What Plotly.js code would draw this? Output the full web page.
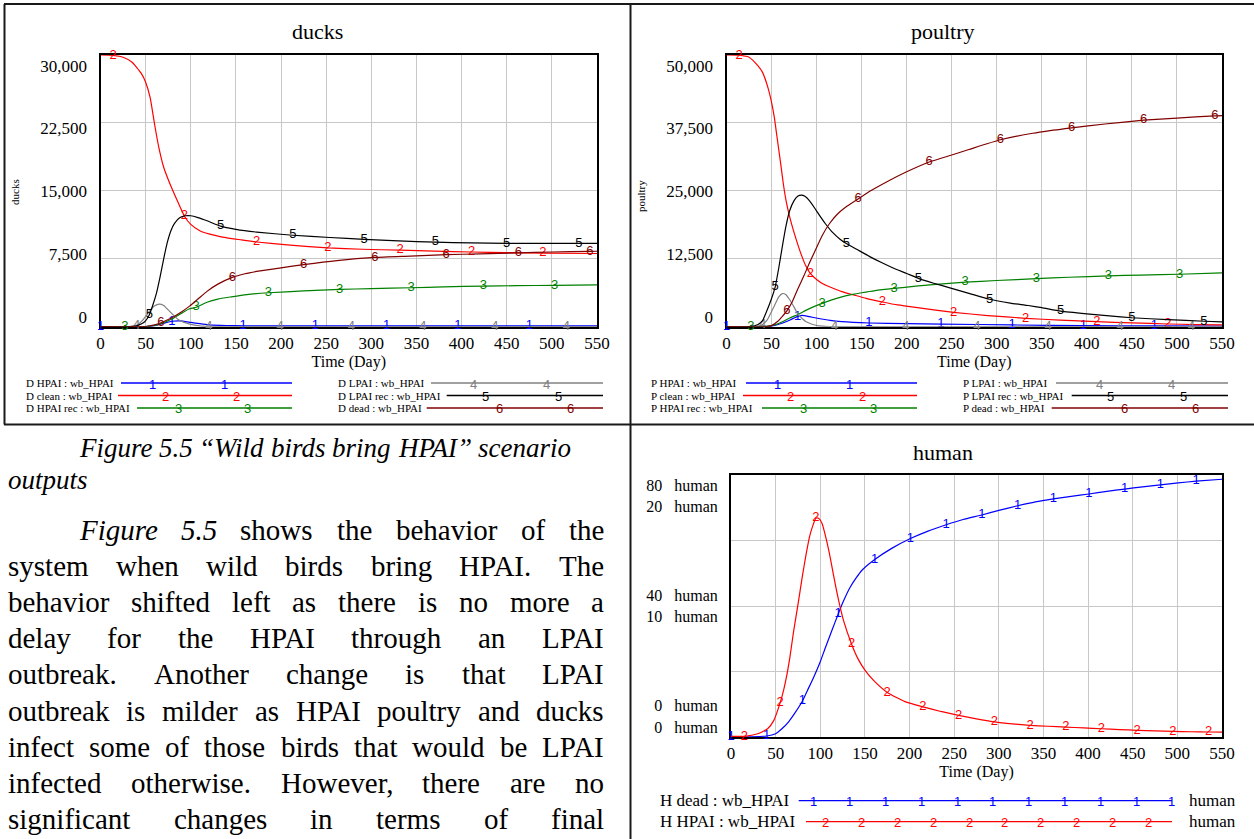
<!DOCTYPE html>
<html>
<head>
<meta charset="utf-8">
<script src="https://cdn.plot.ly/plotly-3.0.1.min.js"></script>
<style>
  html, body { margin: 0; padding: 0; background: #ffffff; }
  #page { width: 1254px; height: 839px; }
</style>
</head>
<body>
<div id="page"></div>
<script>
// ---------------- shared axis values ----------------
const timeTicks = [0, 50, 100, 150, 200, 250, 300, 350, 400, 450, 500, 550];
const duckTicks = [0, 7500, 15000, 22500, 30000];
const poultryTicks = [0, 12500, 25000, 37500, 50000];
const humanDeadTicks = [0, 40, 80];
const humanHpaiTicks = [0, 10, 20];
const runName = 'wb_HPAI';
const humanUnit = 'human';

// ---------------- ducks (days / ducks) ----------------
const duckNames = ['D HPAI', 'D clean', 'D HPAI rec', 'D LPAI', 'D LPAI rec', 'D dead'];

const duckHpaiT = [0, 40, 50, 60, 70, 79, 88, 100, 110, 120, 140, 158, 238, 317, 396, 475, 550];
const duckHpaiV = [0, 0, 20, 120, 380, 600, 650, 480, 330, 210, 130, 100, 90, 90, 90, 90, 90];
const duckHpaiMarks = [0, 79, 158, 238, 317, 396, 475];

const duckCleanT = [0, 14, 25, 35, 45, 50, 55, 60, 65, 70, 76, 86, 93, 100, 110, 120, 135, 155, 173, 210, 252, 290, 332, 370, 411, 450, 490, 550];
const duckCleanV = [30000, 29950, 29750, 29200, 28000, 27000, 25300, 22300, 19600, 17600, 16000, 13700, 12200, 11300, 10600, 10250, 9900, 9600, 9350, 9000, 8700, 8550, 8450, 8350, 8250, 8180, 8120, 8080];
const duckCleanMarks = [14, 93, 173, 252, 332, 411, 490];

const duckHpaiRecT = [0, 27, 50, 60, 70, 80, 90, 98, 106, 118, 130, 145, 162, 186, 225, 265, 300, 344, 380, 424, 460, 503, 550];
const duckHpaiRecV = [0, 0, 20, 150, 440, 900, 1500, 1950, 2150, 2700, 3050, 3300, 3550, 3750, 3950, 4120, 4200, 4300, 4400, 4480, 4530, 4570, 4620];
const duckHpaiRecMarks = [27, 106, 186, 265, 344, 424, 503];

const duckLpaiT = [0, 30, 40, 47, 55, 60, 65, 70, 75, 80, 86, 92, 99, 110, 120, 135, 199, 278, 357, 437, 516, 550];
const duckLpaiV = [0, 0, 150, 750, 1800, 2300, 2500, 2350, 1850, 1350, 800, 500, 280, 100, 40, 10, 0, 0, 0, 0, 0, 0];
const duckLpaiMarks = [40, 120, 199, 278, 357, 437, 516];

const duckLpaiRecT = [0, 30, 40, 45, 49, 54, 58, 62, 66, 70, 74, 78, 82, 88, 94, 100, 108, 118, 133, 150, 173, 213, 254, 292, 330, 371, 410, 450, 490, 530, 550];
const duckLpaiRecV = [0, 0, 100, 300, 550, 1300, 2400, 3700, 5500, 7500, 9300, 10600, 11400, 12050, 12250, 12250, 12050, 11700, 11100, 10750, 10450, 10100, 9850, 9650, 9480, 9330, 9250, 9200, 9200, 9200, 9200];
const duckLpaiRecMarks = [54, 133, 213, 292, 371, 450, 530];

const duckDeadT = [0, 40, 52, 60, 67, 75, 81, 90, 99, 108, 118, 130, 146, 160, 173, 200, 225, 262, 304, 343, 383, 420, 463, 500, 542, 550];
const duckDeadV = [0, 0, 50, 200, 440, 800, 1100, 1650, 2300, 3050, 3900, 4700, 5450, 5850, 6100, 6500, 6850, 7300, 7650, 7800, 7950, 8050, 8150, 8250, 8320, 8330];
const duckDeadMarks = [67, 146, 225, 304, 383, 463, 542];

// ---------------- poultry (days / poultry) ----------------
const poultryNames = ['P HPAI', 'P clean', 'P HPAI rec', 'P LPAI', 'P LPAI rec', 'P dead'];

const poultryHpaiT = [0, 40, 50, 60, 70, 79, 84, 92, 101, 115, 128, 158, 200, 238, 317, 396, 475, 550];
const poultryHpaiV = [0, 0, 120, 550, 1200, 1900, 2100, 1850, 1550, 1150, 920, 680, 560, 490, 320, 200, 140, 100];
const poultryHpaiMarks = [0, 79, 158, 238, 317, 396, 475];

const poultryCleanT = [0, 14, 25, 35, 40, 46, 50, 53, 56, 60, 63, 66, 70, 75, 80, 84, 88, 93, 100, 108, 115, 128, 141, 155, 173, 190, 212, 252, 290, 332, 370, 411, 450, 490, 520, 550];
const poultryCleanV = [50000, 49950, 49600, 48000, 46800, 44000, 41300, 38600, 35000, 30200, 26400, 23300, 20300, 17300, 14700, 12800, 11200, 9800, 8700, 7800, 7300, 6450, 5850, 5200, 4550, 4000, 3500, 2650, 2050, 1550, 1200, 920, 700, 500, 400, 320];
const poultryCleanMarks = [14, 93, 173, 252, 332, 411, 490];

const poultryHpaiRecT = [0, 27, 44, 55, 62, 70, 80, 88, 97, 106, 116, 128, 140, 150, 165, 186, 210, 229, 265, 300, 344, 380, 424, 460, 503, 550];
const poultryHpaiRecV = [0, 0, 50, 400, 900, 1600, 2300, 3000, 3700, 4300, 4900, 5500, 5950, 6250, 6650, 7050, 7450, 7750, 8200, 8500, 8850, 9100, 9350, 9500, 9650, 9900];
const poultryHpaiRecMarks = [27, 106, 186, 265, 344, 424, 503];

const poultryLpaiT = [0, 30, 40, 45, 50, 55, 58, 62, 66, 70, 75, 79, 84, 88, 95, 101, 110, 120, 199, 278, 357, 437, 516, 550];
const poultryLpaiV = [0, 0, 400, 1200, 2800, 4500, 5500, 6100, 5900, 5000, 3600, 2400, 1500, 950, 450, 200, 60, 10, 0, 0, 0, 0, 0, 0];
const poultryLpaiMarks = [40, 120, 199, 278, 357, 437, 516];

const poultryLpaiRecT = [0, 26, 35, 40, 44, 50, 54, 58, 62, 66, 70, 75, 79, 83, 87, 92, 98, 104, 110, 118, 126, 133, 145, 159, 172, 185, 200, 213, 230, 247, 270, 292, 315, 335, 350, 371, 400, 425, 450, 490, 530, 550];
const poultryLpaiRecV = [0, 0, 400, 1100, 2600, 5200, 7300, 10800, 14800, 18500, 21300, 23200, 24000, 24200, 24000, 23200, 21800, 20300, 18900, 17300, 16100, 15300, 14200, 12900, 11800, 10800, 9800, 8900, 8000, 7200, 6100, 5050, 4350, 3900, 3500, 2850, 2350, 2000, 1650, 1300, 1000, 900];
const poultryLpaiRecMarks = [54, 133, 213, 292, 371, 450, 530];

const poultryDeadT = [0, 44, 50, 57, 62, 67, 73, 79, 86, 92, 99, 106, 114, 123, 134, 146, 160, 176, 200, 225, 250, 269, 304, 340, 383, 420, 463, 500, 542, 550];
const poultryDeadV = [0, 0, 200, 1000, 1900, 2900, 4600, 6900, 9400, 11700, 14200, 16700, 18900, 20700, 22200, 23500, 25000, 26500, 28500, 30300, 31600, 32600, 34400, 35600, 36600, 37300, 38000, 38400, 38800, 38850];
const poultryDeadMarks = [67, 146, 225, 304, 383, 463, 542];

// ---------------- human (days / human) ----------------
const humanNames = ['H dead', 'H HPAI'];

const humanDeadT = [0, 40, 50, 57, 65, 72, 80, 87, 93, 100, 106, 113, 120, 126, 133, 140, 147, 161, 180, 201, 220, 241, 260, 281, 300, 321, 341, 361, 381, 401, 421, 441, 461, 481, 501, 521, 550];
const humanDeadV = [0, 0.3, 1.0, 2.5, 4.8, 7.5, 11.0, 15.0, 18.5, 23.0, 27.5, 32.5, 37.5, 41.5, 45.5, 48.5, 51.0, 54.2, 57.6, 60.6, 62.8, 64.8, 66.4, 67.8, 69.2, 70.6, 71.8, 72.7, 73.5, 74.2, 75.0, 75.7, 76.4, 77.0, 77.6, 78.1, 78.7];
const humanDeadMarks = [0, 40, 80, 120, 161, 201, 241, 281, 321, 361, 401, 441, 481, 521];

const humanHpaiT = [0, 15, 30, 41, 48, 55, 59, 63, 66, 70, 75, 80, 84, 88, 91, 95, 98, 102, 106, 110, 115, 120, 126, 135, 142, 150, 160, 175, 195, 215, 235, 255, 275, 295, 315, 335, 355, 375, 395, 415, 435, 455, 475, 495, 515, 535, 550];
const humanHpaiV = [0.05, 0.05, 0.25, 0.63, 1.27, 2.6, 3.6, 4.9, 6.1, 8.0, 10.1, 12.3, 13.9, 15.3, 16.0, 16.7, 16.7, 16.3, 15.3, 14.1, 12.3, 10.6, 8.9, 7.1, 6.0, 5.1, 4.3, 3.4, 2.7, 2.3, 1.95, 1.65, 1.38, 1.15, 1.0, 0.89, 0.82, 0.76, 0.69, 0.63, 0.57, 0.51, 0.47, 0.43, 0.40, 0.38, 0.37];
const humanHpaiMarks = [15, 55, 95, 135, 175, 215, 255, 295, 335, 375, 415, 455, 495, 535];

// ---------------- page text ----------------
const captionLines = ['Figure 5.5 \u201cWild birds bring HPAI\u201d scenario', 'outputs'];
const bodyLines = [
  'Figure 5.5 shows the behavior of the',
  'system when wild birds bring HPAI. The',
  'behavior shifted left as there is no more a',
  'delay for the HPAI through an LPAI',
  'outbreak. Another change is that LPAI',
  'outbreak is milder as HPAI poultry and ducks',
  'infect some of those birds that would be LPAI',
  'infected otherwise. However, there are no',
  'significant changes in terms of final'
];

// ---------------- styling ----------------
const W = 1254, H = 839;
const px = x => x / W;
const py = y => 1 - y / H;
const SERIF = 'Liberation Serif';
const SANS = 'Liberation Sans';
const seriesColors = ['#0000ff', '#ff0000', '#008000', '#808080', '#000000', '#800000'];
const GRID = '#c8c8c8';

function curve(t, v, marks, digit, color, xa, ya) {
  return {
    type: 'scatter', mode: 'lines+text', x: t, y: v, xaxis: xa, yaxis: ya,
    line: { color: color, width: 1.2, shape: 'spline', smoothing: 0.5 },
    text: t.map(d => (marks.indexOf(d) >= 0 ? digit : '')),
    textposition: 'middle center',
    textfont: { family: SANS, size: 13, color: color },
    cliponaxis: false, hoverinfo: 'skip', showlegend: false
  };
}
// empty holder so a label-only axis gets drawn
function holder(xa, ya) {
  return { type: 'scatter', mode: 'lines', x: [], y: [], xaxis: xa, yaxis: ya, hoverinfo: 'skip', showlegend: false };
}

const traces = [
  curve(duckHpaiT, duckHpaiV, duckHpaiMarks, '1', seriesColors[0], 'x', 'y'),
  curve(duckCleanT, duckCleanV, duckCleanMarks, '2', seriesColors[1], 'x', 'y'),
  curve(duckHpaiRecT, duckHpaiRecV, duckHpaiRecMarks, '3', seriesColors[2], 'x', 'y'),
  curve(duckLpaiT, duckLpaiV, duckLpaiMarks, '4', seriesColors[3], 'x', 'y'),
  curve(duckLpaiRecT, duckLpaiRecV, duckLpaiRecMarks, '5', seriesColors[4], 'x', 'y'),
  curve(duckDeadT, duckDeadV, duckDeadMarks, '6', seriesColors[5], 'x', 'y'),
  curve(poultryHpaiT, poultryHpaiV, poultryHpaiMarks, '1', seriesColors[0], 'x2', 'y3'),
  curve(poultryCleanT, poultryCleanV, poultryCleanMarks, '2', seriesColors[1], 'x2', 'y3'),
  curve(poultryHpaiRecT, poultryHpaiRecV, poultryHpaiRecMarks, '3', seriesColors[2], 'x2', 'y3'),
  curve(poultryLpaiT, poultryLpaiV, poultryLpaiMarks, '4', seriesColors[3], 'x2', 'y3'),
  curve(poultryLpaiRecT, poultryLpaiRecV, poultryLpaiRecMarks, '5', seriesColors[4], 'x2', 'y3'),
  curve(poultryDeadT, poultryDeadV, poultryDeadMarks, '6', seriesColors[5], 'x2', 'y3'),
  curve(humanDeadT, humanDeadV, humanDeadMarks, '1', seriesColors[0], 'x3', 'y5'),
  curve(humanHpaiT, humanHpaiV, humanHpaiMarks, '2', seriesColors[1], 'x3', 'y6'),
  holder('x', 'y2'), holder('x2', 'y4'), holder('x3', 'y7'), holder('x3', 'y8')
];

// ---------------- axes ----------------
function timeAxis(x0, x1, anchor) {
  return {
    domain: [px(x0), px(x1)], anchor: anchor, range: [0, 550], autorange: false,
    tickvals: timeTicks, ticks: '', 
    tickfont: { family: SERIF, size: 17, color: '#000' },
    showgrid: true, gridcolor: GRID, gridwidth: 1, zeroline: false,
    showline: true, linecolor: '#000', linewidth: 2, mirror: true, layer: 'below traces',
    title: { text: 'Time (Day)', font: { family: SERIF, size: 16, color: '#000' }, standoff: 1 }
  };
}
function valueAxis(yTop, yBottom, anchor, top, grid) {
  return {
    domain: [py(yBottom), py(yTop)], anchor: anchor, range: [0, top], autorange: false,
    tickvals: grid, showticklabels: false, ticks: '',
    showgrid: true, gridcolor: GRID, gridwidth: 1, zeroline: false,
    showline: true, linecolor: '#000', linewidth: 2, mirror: true, layer: 'below traces'
  };
}
function labelAxis(over, anchor, range, vals, texts, size) {
  return {
    overlaying: over, anchor: anchor, side: 'left', range: range, autorange: false,
    tickvals: vals, ticktext: texts, ticks: 'outside', ticklen: 9, tickcolor: 'rgba(0,0,0,0)',
    tickfont: { family: SERIF, size: size, color: '#000' },
    showgrid: false, zeroline: false, showline: false
  };
}
const fmt = v => v.toLocaleString('en-US');
const withUnit = v => String(v) + '\u2002\u00a0' + humanUnit;

// frame positions (px)
const birdTop = 55, birdBottom = 326.7;
const humanTop = 475, humanBottom = 737;

const layout = {
  width: W, height: H, margin: { l: 0, r: 0, t: 0, b: 0, pad: 0 },
  paper_bgcolor: '#ffffff', plot_bgcolor: '#ffffff', showlegend: false,
  font: { family: SERIF, color: '#000' },
  xaxis: timeAxis(100.5, 597, 'y'),
  yaxis: valueAxis(birdTop, birdBottom, 'x', 30000, duckTicks),
  yaxis2: labelAxis('y', 'x', [-1195, 31279], duckTicks, duckTicks.map(fmt), 17),
  xaxis2: timeAxis(726.5, 1222, 'y3'),
  yaxis3: valueAxis(birdTop, birdBottom, 'x2', 50000, poultryTicks),
  yaxis4: labelAxis('y3', 'x2', [-1992, 52131], poultryTicks, poultryTicks.map(fmt), 17),
  xaxis3: timeAxis(731, 1222, 'y5'),
  yaxis5: valueAxis(humanTop, humanBottom, 'x3', 80, [0, 20, 40, 60, 80]),
  yaxis6: { overlaying: 'y5', anchor: 'x3', range: [0, 20], autorange: false, showgrid: false,
            zeroline: false, showline: false, showticklabels: false, ticks: '' },
  yaxis7: labelAxis('y5', 'x3', [-11.35, 83.62], humanDeadTicks, humanDeadTicks.map(withUnit), 16),
  yaxis8: labelAxis('y5', 'x3', [-0.877, 22.80], humanHpaiTicks, humanHpaiTicks.map(withUnit), 16),
  shapes: [],
  annotations: []
};

// ---------------- page frames ----------------
const frameLine = { color: '#1a1a1a', width: 2 };
function hline(x0, x1, y) { layout.shapes.push({ type: 'line', xref: 'paper', yref: 'paper', x0: px(x0), x1: px(x1), y0: py(y), y1: py(y), line: frameLine }); }
function vline(x, y0, y1) { layout.shapes.push({ type: 'line', xref: 'paper', yref: 'paper', x0: px(x), x1: px(x), y0: py(y0), y1: py(y1), line: frameLine }); }
hline(4, 1254, 4);
hline(4, 1254, 424.5);
vline(4.5, 4, 424.5);
vline(630.5, 4, 839);

// ---------------- panel titles ----------------
function note(text, x, y, size, opts) {
  layout.annotations.push(Object.assign({
    text: text, x: px(x), y: py(y), xref: 'paper', yref: 'paper', showarrow: false,
    xanchor: 'center', yanchor: 'middle', font: { family: SERIF, size: size, color: '#000' }
  }, opts || {}));
}
note('ducks', 317, 32, 22);
note('poultry', 942.5, 32, 22);
note('human', 942.5, 452, 22);
note('ducks', 15, 192, 11, { textangle: -90 });
note('poultry', 641, 196, 11, { textangle: -90 });

// ---------------- series keys ----------------
function keyRow(label, color, digit, labelX, y, lineStart, lineEnd, markXs, size) {
  layout.shapes.push({ type: 'line', xref: 'paper', yref: 'paper', x0: px(lineStart), x1: px(lineEnd),
    y0: py(y), y1: py(y), line: { color: color, width: 1.3 } });
  note(label, labelX, y, size, { xanchor: 'left' });
  markXs.forEach(mx => note(digit, mx, y + 1, 13, { font: { family: SANS, size: 13, color: color } }));
}
const birdKey = {
  rowsY: [383, 395.5, 408],
  cols: [
    { labelX: 24, lineEnd: 292, lineStart: [121, 118, 137], marks: [[152.7, 224], [165, 237], [178, 248]] },
    { labelX: 335.7, lineEnd: 603, lineStart: [431, 446.7, 426.7], marks: [[474, 546.7], [485.7, 558], [499, 570]] }
  ]
};
function birdKeys(names, dx) {
  names.forEach((n, i) => {
    const col = birdKey.cols[i < 3 ? 0 : 1], r = i % 3;
    keyRow(n + ' : ' + runName, seriesColors[i], String(i + 1), col.labelX + dx, birdKey.rowsY[r],
      col.lineStart[r] + dx, col.lineEnd + dx, col.marks[r].map(m => m + dx), 11);
  });
}
birdKeys(duckNames, 0);
birdKeys(poultryNames, 625);

const humanKey = { rowsY: [800.7, 821.7], labelX: 658, lineStart: [798.7, 806], lineEnd: 1172,
  markStart: [813.8, 825.8], markStep: 35.8, markCount: [11, 10], unitX: 1187 };
humanNames.forEach((n, i) => {
  const marks = [];
  for (let k = 0; k < humanKey.markCount[i]; k++) marks.push(humanKey.markStart[i] + k * humanKey.markStep);
  keyRow(n + ' : ' + runName, seriesColors[i], String(i + 1), humanKey.labelX, humanKey.rowsY[i],
    humanKey.lineStart[i], humanKey.lineEnd, marks, 17);
  note(humanUnit, humanKey.unitX, humanKey.rowsY[i], 17, { xanchor: 'left' });
});

// ---------------- justified page text ----------------
const ctx = document.createElement('canvas').getContext('2d');
function wordWidth(w, size, italic) {
  ctx.font = (italic ? 'italic ' : '') + size + 'px "Liberation Serif"';
  return ctx.measureText(w).width;
}
function setLine(text, x0, x1, y, size, italicCount) {
  const words = text.split(' ');
  const widths = words.map((w, i) => wordWidth(w, size, i < italicCount));
  const total = widths.reduce((a, b) => a + b, 0);
  let gap = size * 0.25;
  if (x1 !== null && words.length > 1) gap = Math.max((x1 - x0 - total) / (words.length - 1), size * 0.12);
  let x = x0;
  words.forEach((w, i) => {
    const t = i < italicCount ? '<i>' + w + '</i>' : w;
    note(t, x, y, size, { xanchor: 'left', borderpad: 0 });
    x += widths[i] + gap;
  });
}
setLine(captionLines[0], 78, 570, 448, 27, 99);
setLine(captionLines[1], 7, null, 480, 27, 99);
bodyLines.forEach((s, i) => {
  setLine(s, i === 0 ? 78 : 7, 603, 530 + i * 36.1, 29, i === 0 ? 2 : 0);
});

Plotly.newPlot('page', traces, layout, { displayModeBar: false, staticPlot: true });
</script>
</body>
</html>
